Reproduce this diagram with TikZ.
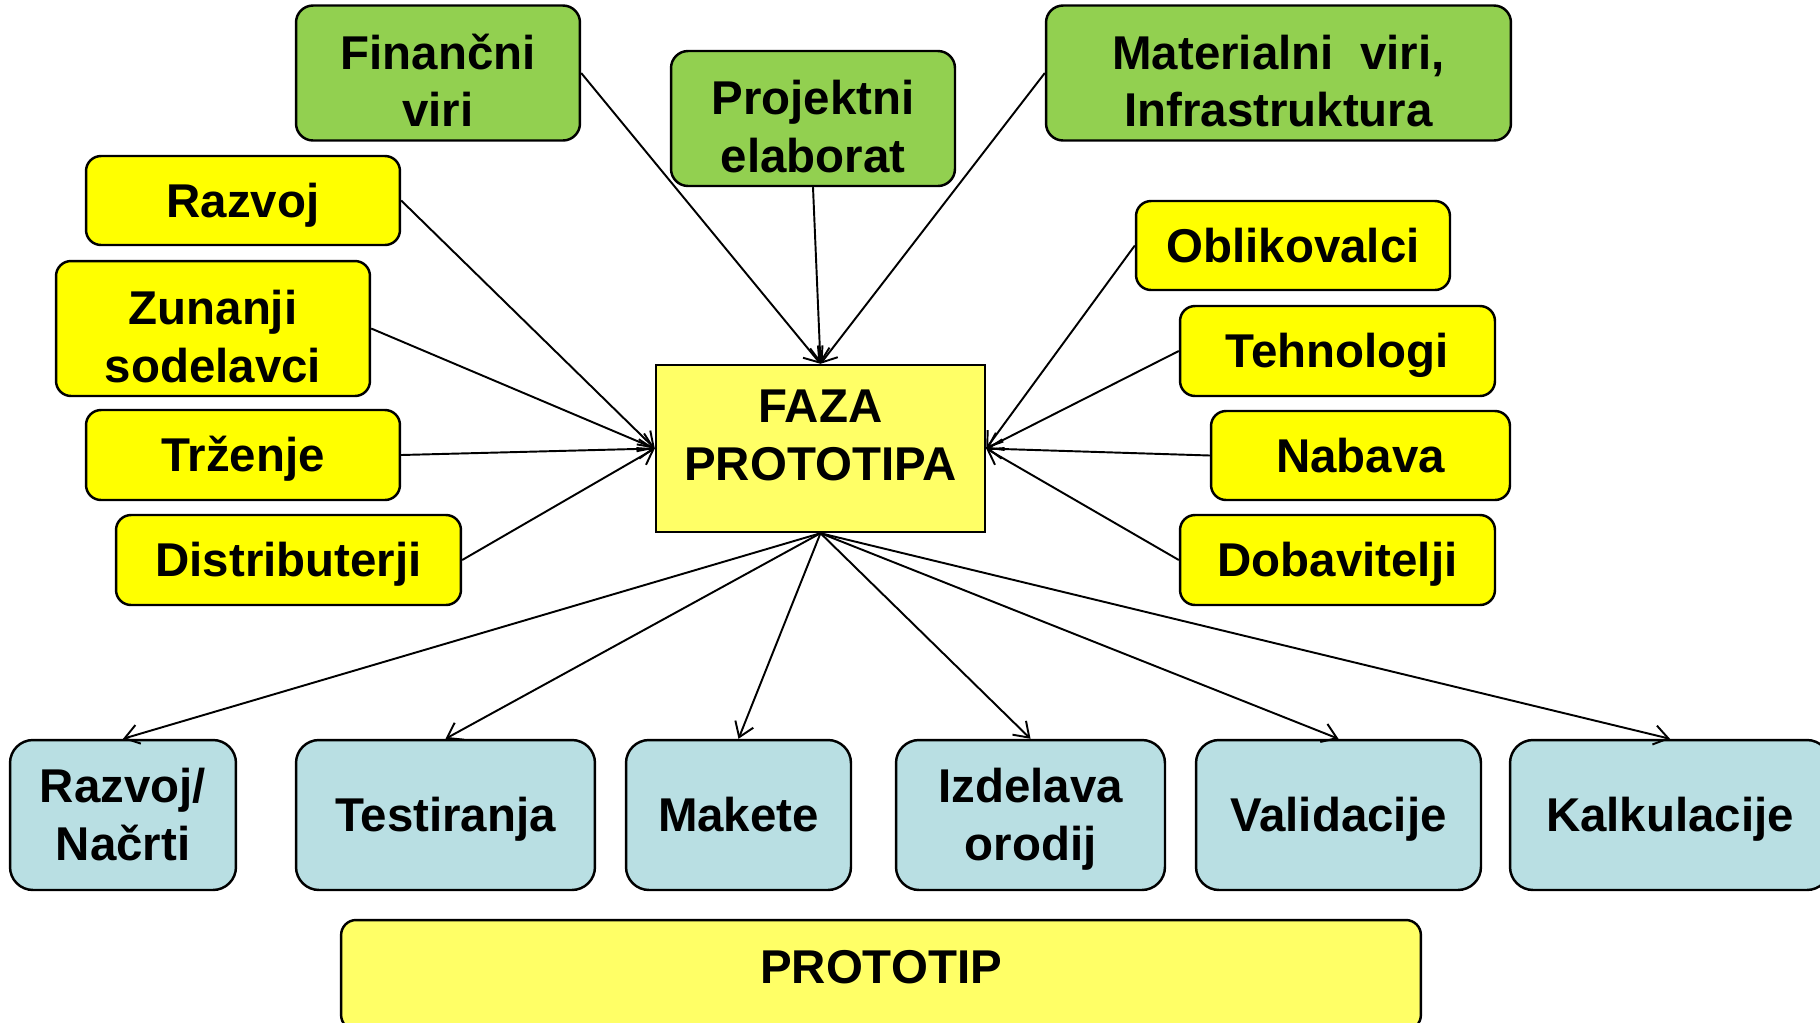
\documentclass[tikz,border=0pt]{standalone}
\usepackage{fontspec}
\setmainfont{Liberation Sans}
\usetikzlibrary{arrows.meta}
\definecolor{zelena}{RGB}{146,208,80}
\definecolor{rumena}{RGB}{255,255,0}
\definecolor{svetla}{RGB}{255,255,102}
\definecolor{modra}{RGB}{185,223,227}

\begin{document}
\begin{tikzpicture}[x=0.02cm,y=-0.02cm,
    okvir/.style={draw,line width=1.4pt,inner sep=0pt,text height=19.3pt,text depth=0pt,
      font=\fontsize{27}{33}\selectfont\bfseries},
    dve/.style={text height=52.3pt},
    gor/.style={text height=2.43cm,text depth=0.27cm},
    vir/.style={okvir,fill=zelena,rounded corners=0.34cm},
    sod/.style={okvir,fill=rumena,rounded corners=0.3cm},
    rez/.style={okvir,fill=modra,rounded corners=0.46cm,minimum height=3cm},
    puscica/.style={line width=1.1pt,-{Straight Barb[length=8pt,width=11pt]}}]
  \useasboundingbox (0,0) rectangle (1820,1022);
  % viri
  \node[vir,gor,minimum width=5.68cm] (fin) at (438,73)
    {\begin{tabular}[b]{@{}c@{}}Finančni\\viri\end{tabular}};
  \node[vir,gor,minimum width=5.68cm] (proj) at (813,118.5)
    {\begin{tabular}[b]{@{}c@{}}Projektni\\elaborat\end{tabular}};
  \node[vir,gor,minimum width=9.30cm] (mat) at (1278.5,73)
    {\begin{tabular}[b]{@{}c@{}}Materialni\ \ viri,\\Infrastruktura\end{tabular}};
  % sodelavci levo
  \node[sod,minimum width=6.28cm,minimum height=1.78cm] (razvoj) at (243,200.5) {Razvoj};
  \node[sod,gor,minimum width=6.28cm] (zunanji) at (213,328.5)
    {\begin{tabular}[b]{@{}c@{}}Zunanji\\sodelavci\end{tabular}};
  \node[sod,minimum width=6.28cm,minimum height=1.80cm] (trzenje) at (243,455) {Trženje};
  \node[sod,minimum width=6.90cm,minimum height=1.80cm] (distrib) at (288.5,560) {Distributerji};
  % sodelavci desno
  \node[sod,minimum width=6.28cm,minimum height=1.78cm] (oblik) at (1293,245.5) {Oblikovalci};
  \node[sod,minimum width=6.30cm,minimum height=1.80cm] (tehno) at (1337.5,351) {Tehnologi};
  \node[sod,minimum width=5.98cm,minimum height=1.78cm] (nabava) at (1360.5,455.5) {Nabava};
  \node[sod,minimum width=6.30cm,minimum height=1.80cm] (dobav) at (1337.5,560) {Dobavitelji};
  % faza
  \node[okvir,fill=svetla,minimum width=6.58cm,text height=2.30cm,text depth=1.04cm] (faza) at (820.5,448.5)
    {\begin{tabular}[b]{@{}c@{}}FAZA\\PROTOTIPA\end{tabular}};
  % rezultati
  \node[rez,dve,minimum width=4.52cm] (nacrti) at (123,815)
    {\begin{tabular}[b]{@{}c@{}}Razvoj/\\Načrti\end{tabular}};
  \node[rez,minimum width=5.98cm] (test) at (445.5,815) {Testiranja};
  \node[rez,minimum width=4.50cm] (makete) at (738.5,815) {Makete};
  \node[rez,dve,minimum width=5.38cm] (orodja) at (1030.5,815)
    {\begin{tabular}[b]{@{}c@{}}Izdelava\\orodij\end{tabular}};
  \node[rez,minimum width=5.70cm] (valid) at (1338.5,815) {Validacije};
  \node[rez,minimum width=6.40cm] (kalk) at (1670,815) {Kalkulacije};
  \node[okvir,fill=svetla,rounded corners=0.3cm,minimum width=21.60cm,text height=1.26cm,text depth=0.94cm] (prot) at (881,975) {PROTOTIP};
  % puscice
  \draw[puscica] (fin.east) -- (faza.north);
  \draw[puscica] (proj.south) -- (faza.north);
  \draw[puscica] (mat.west) -- (faza.north);
  \draw[puscica] (razvoj.east) -- (faza.west);
  \draw[puscica] (zunanji.east) -- (faza.west);
  \draw[puscica] (trzenje.east) -- (faza.west);
  \draw[puscica] (distrib.east) -- (faza.west);
  \draw[puscica] (oblik.west) -- (faza.east);
  \draw[puscica] (tehno.west) -- (faza.east);
  \draw[puscica] (nabava.west) -- (faza.east);
  \draw[puscica] (dobav.west) -- (faza.east);
  \draw[puscica] (faza.south) -- (nacrti.north);
  \draw[puscica] (faza.south) -- (test.north);
  \draw[puscica] (faza.south) -- (makete.north);
  \draw[puscica] (faza.south) -- (orodja.north);
  \draw[puscica] (faza.south) -- (valid.north);
  \draw[puscica] (faza.south) -- (kalk.north);
\end{tikzpicture}
\end{document}
